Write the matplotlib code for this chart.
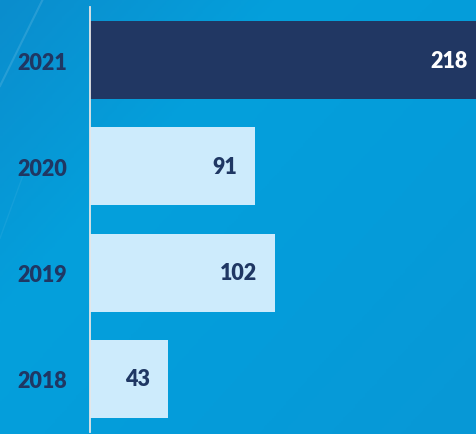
import matplotlib
matplotlib.use("Agg")
import matplotlib.pyplot as plt
import numpy as np
from matplotlib.colors import LinearSegmentedColormap

years = ["2018", "2019", "2020", "2021"]
values = [43, 102, 91, 218]
bar_colors = ["#CDEBFC", "#CDEBFC", "#CDEBFC", "#213763"]
label_colors = ["#1F3763", "#1F3763", "#1F3763", "#FFFFFF"]

W, H, DPI = 477, 435, 100
fig = plt.figure(figsize=(W / DPI, H / DPI), dpi=DPI)

# background gradient
bg = fig.add_axes([0, 0, 1, 1], zorder=0)
bg.set_axis_off()
yy, xx = np.mgrid[0:1:200j, 0:1:200j]
t = np.clip(0.55 * xx + 0.45 * (1 - yy), 0, 1)
cmap = LinearSegmentedColormap.from_list("bgc", ["#0B8DCD", "#04A0DC", "#059CDA", "#0898D6"])
bg.imshow(t, cmap=cmap, aspect="auto", extent=[0, 1, 0, 1], origin="lower")
bg.plot([0.0, 0.09], [0.80, 1.0], color="white", alpha=0.12, lw=1.5)
bg.plot([0.0, 0.05], [0.45, 0.6], color="white", alpha=0.06, lw=1.0)
bg.set_xlim(0, 1)
bg.set_ylim(0, 1)

ax = fig.add_axes([90 / W, 2 / H, (W - 90) / W, 425 / H], zorder=1)
ax.patch.set_alpha(0)
y = np.arange(len(years))
ax.barh(y, values, height=0.735, color=bar_colors, zorder=2)
ax.set_xlim(0, 213.3)
ax.set_ylim(-0.5, 3.5)

FS = 15.5
for yi, v, c in zip(y, values, label_colors):
    ax.annotate(str(v), xy=(v, yi), xytext=(-13, 0), textcoords="offset points",
                ha="right", va="center", fontsize=FS, fontweight="heavy",
                color=c, family="Lato", annotation_clip=False, clip_on=False)

ax.set_yticks(y)
ax.set_yticklabels(years, fontsize=FS, fontweight="heavy", color="#1F3763", family="Lato")
ax.tick_params(axis="y", length=0, pad=16.5)
ax.set_xticks([])
for s in ["top", "right", "bottom"]:
    ax.spines[s].set_visible(False)
ax.spines["left"].set_color("#E6E6E6")
ax.spines["left"].set_linewidth(1.3)

fig.savefig("out.png", dpi=DPI)
